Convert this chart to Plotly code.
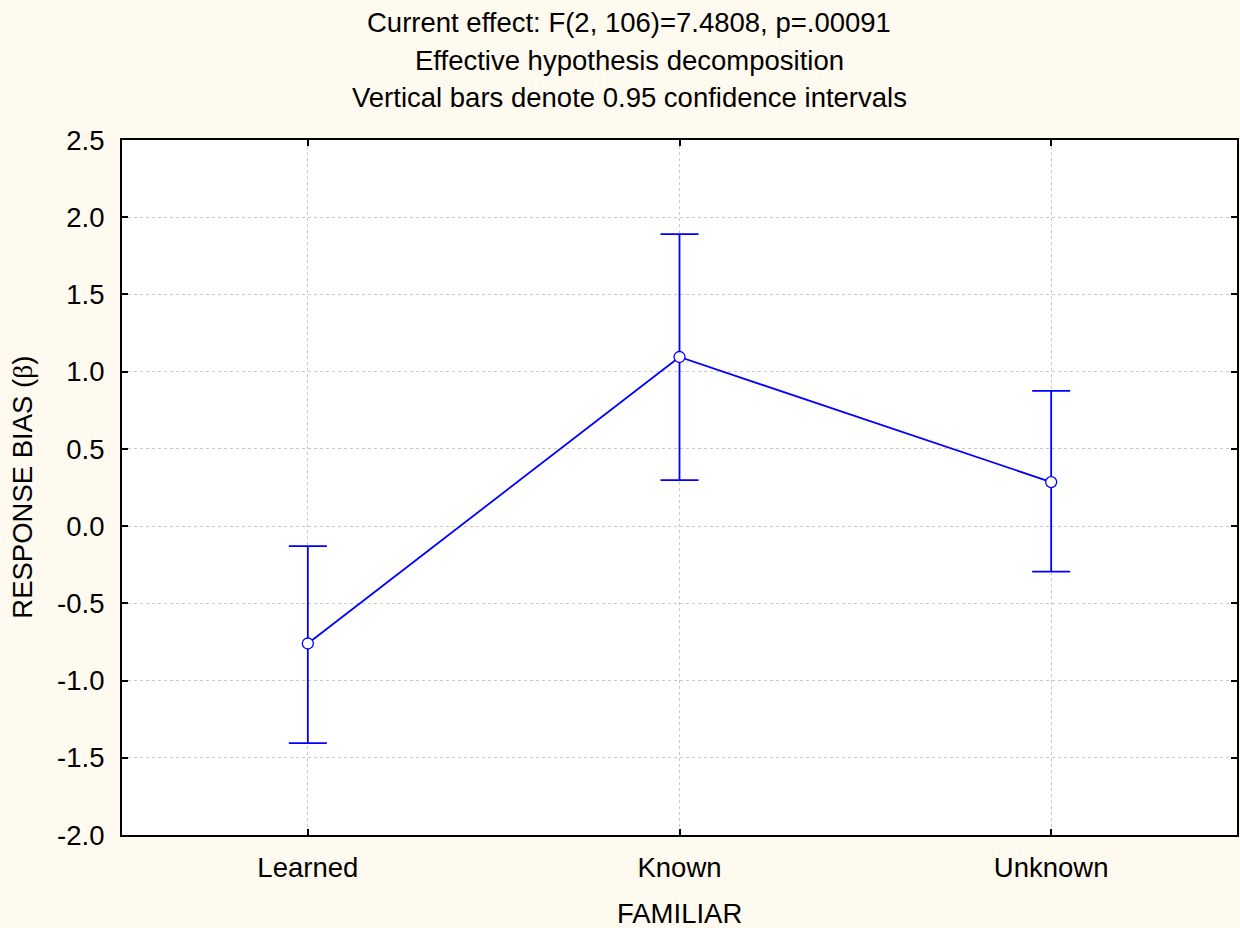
import plotly.graph_objects as go

categories = ["Learned", "Known", "Unknown"]
means = [-0.76, 1.095, 0.285]
upper = [-0.13, 1.89, 0.875]
lower = [-1.405, 0.298, -0.295]
title_lines = [
    "Current effect: F(2, 106)=7.4808, p=.00091",
    "Effective hypothesis decomposition",
    "Vertical bars denote 0.95 confidence intervals",
]
x_title = "FAMILIAR"
y_title = "RESPONSE BIAS (<span style='font-family:Liberation Serif, Times New Roman, serif'>β</span>)"
y_ticks = [-2.0, -1.5, -1.0, -0.5, 0.0, 0.5, 1.0, 1.5, 2.0, 2.5]

err_plus = [u - m for u, m in zip(upper, means)]
err_minus = [m - l for m, l in zip(means, lower)]

FONT = "Liberation Sans, Arial, sans-serif"
BLUE = "#0000FF"
FS = 27.5

fig = go.Figure()
fig.add_trace(go.Scatter(
    x=list(range(len(categories))), y=means,
    mode="lines+markers",
    line=dict(color=BLUE, width=1.8),
    marker=dict(symbol="circle", size=11, color="white", line=dict(color=BLUE, width=1.3)),
    error_y=dict(type="data", symmetric=False, array=err_plus, arrayminus=err_minus,
                 color=BLUE, thickness=1.8, width=19),
    showlegend=False,
))

PLOT_L, PLOT_T, PLOT_R, PLOT_B = 122, 140, 1239, 835
PW, PH = PLOT_R - PLOT_L, PLOT_B - PLOT_T

annotations = []
for t, y_px in zip(title_lines, [22, 60, 97]):
    annotations.append(dict(
        text=t, xref="paper", yref="paper", x=(630 - PLOT_L) / PW, y=(PLOT_B - y_px) / PH,
        xanchor="center", yanchor="middle", showarrow=False,
        font=dict(family=FONT, size=FS, color="black"),
    ))
annotations.append(dict(
    text=x_title, xref="paper", yref="paper", x=(681 - PLOT_L) / PW, y=(PLOT_B - 913) / PH,
    xanchor="center", yanchor="middle", showarrow=False,
    font=dict(family=FONT, size=FS, color="black"),
))
annotations.append(dict(
    text=y_title, xref="paper", yref="paper", x=(22 - PLOT_L) / PW, y=0.5,
    xanchor="center", yanchor="middle", showarrow=False, textangle=-90,
    font=dict(family=FONT, size=FS, color="black"),
))

fig.update_layout(
    width=1240, height=928,
    margin=dict(l=PLOT_L, r=1240 - PLOT_R, t=PLOT_T, b=928 - PLOT_B),
    paper_bgcolor="#FEFAEF",
    plot_bgcolor="white",
    font=dict(family=FONT, size=FS, color="black"),
    annotations=annotations,
    xaxis=dict(
        range=[-0.5, 2.5], tickmode="array",
        tickvals=list(range(len(categories))), ticktext=categories,
        ticks="inside", ticklen=6, tickwidth=2, tickcolor="black",
        showline=True, linecolor="black", linewidth=2, mirror="ticks",
        showgrid=True, gridcolor="#c8c8c8", griddash="dot", gridwidth=1,
        zeroline=False,
        tickfont=dict(family=FONT, size=FS),
        ticklabelstandoff=7,
    ),
    yaxis=dict(
        range=[-2.0, 2.5], tickmode="array", tickvals=y_ticks,
        ticktext=[f"{v:.1f}" for v in y_ticks],
        ticks="inside", ticklen=6, tickwidth=2, tickcolor="black",
        showline=True, linecolor="black", linewidth=2, mirror="ticks",
        showgrid=True, gridcolor="#c8c8c8", griddash="dot", gridwidth=1,
        zeroline=False,
        tickfont=dict(family=FONT, size=FS),
        ticklabelstandoff=10,
    ),
)

fig.write_html(
    "out.html",
    config={"displayModeBar": False},
    post_script="document.body.style.margin='0';document.body.style.background='#FEFAEF';",
)
